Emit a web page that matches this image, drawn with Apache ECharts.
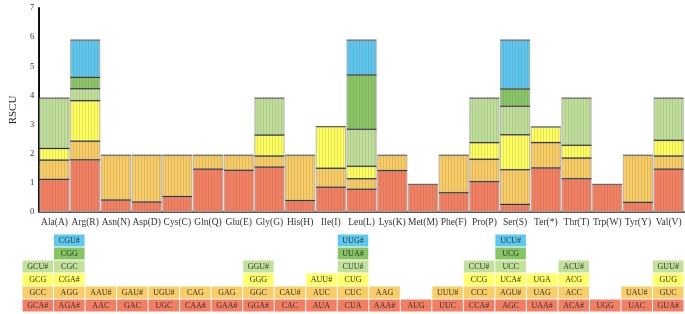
<!DOCTYPE html>
<html><head><meta charset="utf-8">
<script src="https://cdn.jsdelivr.net/npm/echarts@6/dist/echarts.min.js"></script>
<style>html,body{margin:0;padding:0;background:#fff}#c{width:685px;height:314px}</style>
</head><body><div id="c"></div>
<script>
var aminoAcids = ['Ala(A)','Arg(R)','Asn(N)','Asp(D)','Cys(C)','Gln(Q)','Glu(E)','Gly(G)','His(H)','Ile(I)','Leu(L)','Lys(K)','Met(M)','Phe(F)','Pro(P)','Ser(S)','Ter(*)','Thr(T)','Trp(W)','Tyr(Y)','Val(V)'];

// RSCU per stacking level (level1 = bottom)
var level1 = [1.12,1.79,0.41,0.34,0.53,1.47,1.43,1.54,0.39,0.85,0.78,1.42,0.95,0.66,1.04,0.26,1.51,1.14,0.95,0.33,1.47];
var level2 = [0.66,0.64,1.54,1.61,1.42,0.48,0.52,0.38,1.56,0.65,0.36,0.53,null,1.29,0.77,1.19,0.87,0.71,null,1.62,0.45];
var level3 = [0.40,1.39,null,null,null,null,null,0.72,null,1.43,0.43,null,null,null,0.57,1.20,0.54,0.44,null,null,0.54];
var level4 = [1.73,0.41,null,null,null,null,null,1.27,null,null,1.27,null,null,null,1.53,0.98,null,1.62,null,null,1.45];
var level5 = [null,0.39,null,null,null,null,null,null,null,null,1.86,null,null,null,null,0.59,null,null,null,null,null];
var level6 = [null,1.28,null,null,null,null,null,null,null,null,1.20,null,null,null,null,1.68,null,null,null,null,null];

// codon labels per level (same order as stacking)
var codons1 = ['GCA#','AGA#','AAC','GAC','UGC','CAA#','GAA#','GGA#','CAC','AUA','CUA','AAA#','AUG','UUC','CCA#','AGC','UAA#','ACA#','UGG','UAC','GUA#'];
var codons2 = ['GCC','AGG','AAU#','GAU#','UGU#','CAG','GAG','GGC','CAU#','AUC','CUC','AAG','','UUU#','CCC','AGU#','UAG','ACC','','UAU#','GUC'];
var codons3 = ['GCG','CGA#','','','','','','GGG','','AUU#','CUG','','','','CCG','UCA#','UGA','ACG','','','GUG'];
var codons4 = ['GCU#','CGC','','','','','','GGU#','','','CUU#','','','','CCU#','UCC','','ACU#','','','GUU#'];
var codons5 = ['','CGG','','','','','','','','','UUA#','','','','','UCG','','','','',''];
var codons6 = ['','CGU#','','','','','','','','','UUG#','','','','','UCU#','','','','',''];

var yTicks = [0,1,2,3,4,5,6,7];

var barColors = ['#F47F60','#F8CC62','#FFFF5C','#BFDF98','#88C664','#5BC7EE'];
var cellColors = ['#F47E63','#F9CD68','#FFFF66','#C2E19B','#87C563','#5CC8F0'];
var levels = [level1,level2,level3,level4,level5,level6];
var codonRows = [codons1,codons2,codons3,codons4,codons5,codons6];

var font = 'Liberation Serif, Times New Roman, serif';
var BAR_W = 30;

var series = levels.map(function(arr, i){
  return {
    type:'bar', stack:'rscu', xAxisIndex:0, yAxisIndex:0,
    data: arr, barWidth: BAR_W, animation:false,
    itemStyle:{color:barColors[i], borderColor:'#A8A8A8', borderWidth:0.8}
  };
});

// overlay: vertical stripes + dark segment boundaries, derived from the level arrays
var overlayData = aminoAcids.map(function(a, ai){
  return [ai].concat(levels.map(function(l){ return l[ai] == null ? 0 : l[ai]; }));
});
series.push({
  type:'custom', xAxisIndex:0, yAxisIndex:0, animation:false, z:5, data: overlayData,
  renderItem: function(params, api){
    var ai = api.value(0);
    var cum = 0, tops = [];
    for (var k = 1; k <= 6; k++) { var v = api.value(k); if (v > 0) { cum += v; tops.push(cum); } }
    var base = api.coord([ai, 0]);
    var top = api.coord([ai, cum]);
    var x0 = base[0] - BAR_W/2, x1 = base[0] + BAR_W/2;
    var children = [];
    for (var s = 1; s < 10; s++) {
      var xs = Math.round(x0 + s*BAR_W/10) + 0.5;
      children.push({type:'line', shape:{x1:xs, y1:top[1], x2:xs, y2:base[1]}, style:{stroke:'rgba(110,110,110,0.28)', lineWidth:0.7}});
    }
    tops.forEach(function(t, idx){
      var y = api.coord([ai, t])[1];
      children.push({type:'line', shape:{x1:x0, y1:y, x2:x1, y2:y}, style:{stroke: idx === tops.length-1 ? '#555' : '#2a2a2a', lineWidth:1}});
    });
    return {type:'group', children:children};
  }
});

var cellData = [];
codonRows.forEach(function(row, lv){
  row.forEach(function(c, ai){ if(c) cellData.push([ai, lv, c]); });
});
series.push({
  type:'custom', xAxisIndex:1, yAxisIndex:1, animation:false, data: cellData,
  renderItem: function(params, api){
    var ai = api.value(0), lv = api.value(1);
    var p0 = api.coord([ai, lv]);
    var p1 = api.coord([ai, lv+1]);
    var w = api.size([1,0])[0];
    var x = p0[0]-w/2+0.5, y = p1[1]+0.5, h = p0[1]-p1[1]-1;
    return {type:'group', children:[
      {type:'rect', shape:{x:x, y:y, width:w-1, height:h}, style:{fill:cellColors[lv]}},
      {type:'text', style:{text:cellData[params.dataIndex][2], x:p0[0], y:y+h/2, align:'center', verticalAlign:'middle', fill:'#333', font:'8px '+font}}
    ]};
  }
});

var chart = echarts.init(document.getElementById('c'), null, {renderer:'canvas'});
chart.setOption({
  backgroundColor:'#fff',
  animation:false,
  grid:[{left:22, right:1, top:8, height:204}, {left:22, right:1, top:234, height:78}],
  xAxis:[
    {type:'category', gridIndex:0, data:aminoAcids, axisTick:{show:false},
     axisLine:{lineStyle:{color:'#555', width:2}},
     axisLabel:{color:'#333', fontFamily:font, fontSize:9.5, margin:5, interval:0}},
    {type:'category', gridIndex:1, data:aminoAcids, show:false}
  ],
  yAxis:[
    {type:'value', gridIndex:0, min:yTicks[0], max:yTicks[yTicks.length-1], interval:1,
     name:'RSCU', nameLocation:'middle', nameGap:15, nameTextStyle:{fontFamily:font, fontSize:11, color:'#222'},
     splitLine:{show:false}, axisTick:{show:false},
     axisLine:{show:true, lineStyle:{color:'#111', width:2}},
     axisLabel:{color:'#333', fontFamily:font, fontSize:8.5, margin:5}},
    {type:'value', gridIndex:1, min:0, max:6, show:false}
  ],
  series: series
});
</script></body></html>
